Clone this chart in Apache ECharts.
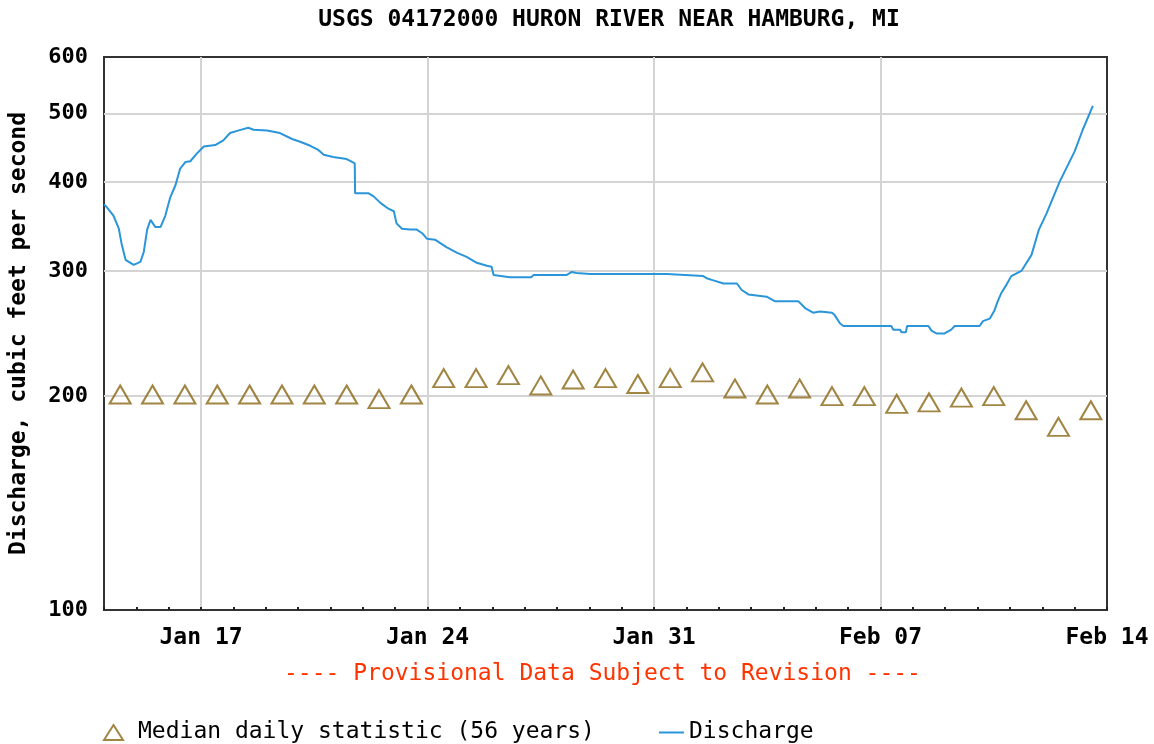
<!DOCTYPE html>
<html>
<head>
<meta charset="utf-8">
<script src="https://cdn.jsdelivr.net/npm/echarts@6/dist/echarts.min.js"></script>
<style>
html,body{margin:0;padding:0;background:#fff;}
#chart{width:1154px;height:744px;}
</style>
</head>
<body>
<div id="chart"></div>
<script>
// ---- Data ----
var titleText = 'USGS 04172000 HURON RIVER NEAR HAMBURG, MI';
var yAxisName = 'Discharge, cubic feet per second';
var noteText = '---- Provisional Data Subject to Revision ----';
var yTickValues = [100, 200, 300, 400, 500, 600];
var xTickTimes = ['01-17 00:00', '01-24 00:00', '01-31 00:00', '02-07 00:00', '02-14 00:00'];
var xTickLabels = ['Jan 17', 'Jan 24', 'Jan 31', 'Feb 07', 'Feb 14'];

var medianName = 'Median daily statistic (56 years)';
var medianDates = ['01-14 12:00','01-15 12:00','01-16 12:00','01-17 12:00','01-18 12:00','01-19 12:00','01-20 12:00','01-21 12:00','01-22 12:00','01-23 12:00','01-24 12:00','01-25 12:00','01-26 12:00','01-27 12:00','01-28 12:00','01-29 12:00','01-30 12:00','01-31 12:00','02-01 12:00','02-02 12:00','02-03 12:00','02-04 12:00','02-05 12:00','02-06 12:00','02-07 12:00','02-08 12:00','02-09 12:00','02-10 12:00','02-11 12:00','02-12 12:00','02-13 12:00'];
var medianValues = [201, 201, 201, 201, 201, 201, 201, 201, 198, 201, 212, 212, 214, 207, 211, 212, 208, 212, 216, 205, 201, 205, 200, 200, 195, 196, 199, 200, 191, 181, 191];

var dischargeName = 'Discharge';
var dischargeTimes = ['01-14 00:00','01-14 02:00','01-14 07:00','01-14 11:00','01-14 13:00','01-14 16:00','01-14 22:00','01-15 03:00','01-15 05:30','01-15 08:00','01-15 10:30','01-15 14:00','01-15 18:00','01-15 21:30','01-16 01:00','01-16 05:00','01-16 08:30','01-16 12:30','01-16 16:00','01-16 21:00','01-17 02:00','01-17 10:30','01-17 16:30','01-17 21:30','01-18 04:00','01-18 11:00','01-18 15:00','01-19 01:00','01-19 10:30','01-19 19:30','01-20 01:30','01-20 09:00','01-20 15:00','01-20 19:00','01-21 02:00','01-21 12:00','01-21 16:00','01-21 18:00','01-21 18:15','01-22 04:00','01-22 08:00','01-22 13:00','01-22 19:00','01-22 23:00','01-23 01:00','01-23 05:00','01-23 11:00','01-23 16:00','01-23 20:00','01-23 23:30','01-24 05:30','01-24 14:00','01-24 22:00','01-25 05:00','01-25 12:30','01-25 20:00','01-25 23:30','01-26 01:00','01-26 13:00','01-27 05:00','01-27 06:30','01-28 07:00','01-28 11:00','01-28 14:30','01-29 00:30','01-31 09:30','01-31 10:30','02-01 12:30','02-01 15:00','02-01 20:00','02-02 03:30','02-02 13:30','02-02 17:00','02-02 22:00','02-03 11:30','02-03 17:30','02-04 11:00','02-04 16:00','02-04 22:00','02-05 03:00','02-05 12:00','02-05 14:00','02-05 18:00','02-05 20:30','02-07 08:00','02-07 09:30','02-07 14:30','02-07 15:30','02-07 18:45','02-07 19:45','02-08 11:30','02-08 14:00','02-08 17:30','02-08 23:30','02-09 04:30','02-09 07:00','02-10 01:30','02-10 04:00','02-10 09:00','02-10 12:30','02-10 15:00','02-10 17:30','02-10 21:30','02-11 01:00','02-11 08:30','02-11 16:00','02-11 21:30','02-12 03:00','02-12 13:00','02-13 00:00','02-13 06:00','02-13 13:30'];
var dischargeValues = [372, 369, 359, 344, 328, 311, 306, 309, 319, 343, 354, 346, 346, 359, 380, 396, 418, 427, 428, 439, 449, 451, 458, 469, 473, 477, 474, 473, 469, 460, 456, 450, 444, 437, 434, 431, 427, 425, 386, 386, 382, 374, 367, 364, 350, 344, 343, 343, 339, 333, 332, 324, 318, 314, 308, 305, 304, 296, 294, 294, 296, 296, 299, 298, 297, 297, 296, 295, 293, 291, 288, 288, 282, 278, 276, 272, 272, 266, 262, 263, 262, 260, 253, 251, 251, 248, 248, 246, 246, 251, 251, 247, 245, 245, 248, 251, 251, 255, 257, 264, 272, 279, 287, 295, 300, 316, 343, 361, 401, 442, 474, 512];

// ---- Helpers ----
function toHours(s) {
  var m = parseInt(s.slice(0, 2), 10), d = parseInt(s.slice(3, 5), 10);
  var hh = parseInt(s.slice(6, 8), 10), mm = parseInt(s.slice(9, 11), 10);
  var day = (m === 1) ? d - 14 : d + 17;
  return day * 24 + hh + mm / 60;
}
function lg(v) { return Math.log10(v); }

var xTickHours = xTickTimes.map(toHours);
var labelByHour = {};
xTickHours.forEach(function (h, i) { labelByHour[h] = xTickLabels[i]; });

var medianData = medianDates.map(function (t, i) { return [toHours(t), lg(medianValues[i])]; });
var dischargeData = dischargeTimes.map(function (t, i) { return [toHours(t), lg(dischargeValues[i])]; });

var FONT = 'DejaVu Sans Mono';
var gridColor = '#d4d4d4';
var medianColor = '#8a6714';
var lineColor = '#2b95d9';

var chart = echarts.init(document.getElementById('chart'), null, { renderer: 'canvas' });
chart.setOption({
  animation: false,
  backgroundColor: '#fff',
  title: {
    text: titleText,
    left: 604,
    textAlign: 'center',
    top: 4,
    textStyle: { fontFamily: FONT, fontSize: 23, fontWeight: 'bold', color: '#000' }
  },
  grid: {
    left: 104, right: 47, top: 57, bottom: 134,
    outerBoundsMode: 'none', containLabel: false,
    show: true, borderColor: '#333', borderWidth: 2, backgroundColor: 'transparent'
  },
  legend: [{
    data: [{ name: medianName, icon: 'triangle', itemStyle: { color: 'rgba(0,0,0,0)', borderColor: medianColor, borderWidth: 2 } }],
    left: 98, top: 716,
    itemWidth: 19, itemHeight: 15,
    textStyle: { fontFamily: FONT, fontSize: 23, color: '#000', padding: [0, 0, 0, 10] }
  }, {
    data: [{ name: dischargeName, icon: 'rect', itemStyle: { color: lineColor } }],
    left: 654, top: 716,
    itemWidth: 25, itemHeight: 2,
    textStyle: { fontFamily: FONT, fontSize: 23, color: '#000', padding: [0, 0, 0, 0] }
  }],
  xAxis: [{
    type: 'value', min: 0, max: 744, interval: 24,
    axisLine: { show: false },
    axisTick: { show: true, inside: true, length: 3, lineStyle: { color: '#222', width: 2 } },
    axisLabel: { show: false },
    splitLine: { show: false }
  }, {
    type: 'value', min: 0, max: 744, position: 'bottom',
    axisLine: { show: false },
    axisTick: { show: false, customValues: xTickHours },
    axisLabel: {
      show: true, customValues: xTickHours, margin: 17,
      fontFamily: FONT, fontSize: 23, fontWeight: 'bold', color: '#000',
      formatter: function (v) { return labelByHour[v] || ''; }
    },
    splitLine: { show: true, showMinLine: true, showMaxLine: false, lineStyle: { color: gridColor, width: 2 } }
  }],
  yAxis: {
    type: 'value', min: lg(100), max: lg(600),
    name: yAxisName, nameLocation: 'middle', nameGap: 73,
    nameTextStyle: { fontFamily: FONT, fontSize: 23, fontWeight: 'bold', color: '#000' },
    axisLine: { show: false },
    axisTick: { show: false, customValues: yTickValues.map(lg) },
    axisLabel: {
      show: true, customValues: yTickValues.map(lg), margin: 16,
      fontFamily: FONT, fontSize: 22, fontWeight: 'bold', color: '#000',
      formatter: function (v) { return String(Math.round(Math.pow(10, v))); }
    },
    splitLine: { show: true, showMinLine: false, showMaxLine: false, lineStyle: { color: gridColor, width: 2 } }
  },
  graphic: [{
    type: 'text', left: 284, top: 663,
    style: { text: noteText, fontFamily: FONT, fontSize: 23, fill: '#ff3300' }
  }],
  series: [{
    name: dischargeName, type: 'line', xAxisIndex: 1,
    data: dischargeData, showSymbol: false, symbol: 'none',
    lineStyle: { color: lineColor, width: 2 }, itemStyle: { color: lineColor },
    z: 3
  }, {
    name: medianName, type: 'scatter', xAxisIndex: 1,
    data: medianData, symbol: 'triangle', symbolSize: [21, 18],
    itemStyle: { color: 'rgba(0,0,0,0)', borderColor: medianColor, borderWidth: 2 },
    z: 4
  }]
});
</script>
</body>
</html>
